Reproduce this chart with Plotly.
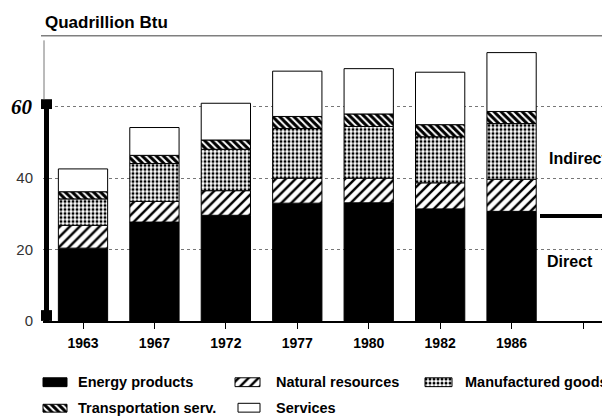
import numpy as np
import plotly.graph_objects as go

# ---- data ----
years = ["1963", "1967", "1972", "1977", "1980", "1982", "1986"]
tick_labels = years + [""]
energy_products = [20.4, 27.7, 29.6, 33.0, 33.1, 31.4, 30.7]
natural_resources = [6.4, 5.8, 6.9, 7.0, 6.9, 7.3, 9.0]
manufactured_goods = [7.4, 10.6, 11.6, 13.9, 14.5, 12.9, 15.6]
transportation_serv = [2.0, 2.3, 2.6, 3.4, 3.5, 3.4, 3.4]
services = [6.4, 7.8, 10.3, 12.7, 12.7, 14.7, 16.5]
direct_indirect_divider = 29.4
y_ticks = [0, 20, 40, 60]
y_tick_text = ["0", "20", "40", ""]

W, H = 610, 419
FONT = "Liberation Sans"

series = [
    ("Energy products", energy_products,
     dict(color="black")),
    ("Natural resources", natural_resources,
     dict(color="white", pattern=dict(shape="/", fgcolor="black", bgcolor="white", size=7, solidity=0.35, fillmode="replace"))),
    ("Manufactured goods", manufactured_goods,
     dict(color="white", pattern=dict(shape=".", fgcolor="black", bgcolor="white", size=4, solidity=0.45, fillmode="replace"))),
    ("Transportation serv.", transportation_serv,
     dict(color="white", pattern=dict(shape="\\", fgcolor="black", bgcolor="white", size=5, solidity=0.6, fillmode="replace"))),
    ("Services", services,
     dict(color="white")),
]

xs = list(range(len(years)))
fig = go.Figure()
base = np.zeros(len(years))
for name, vals, mk in series:
    v = np.array(vals)
    fig.add_trace(go.Bar(
        x=xs, y=v, base=base.copy(), name=name, width=0.69,
        marker=dict(**mk, line=dict(color="black", width=1)),
        showlegend=False, hoverinfo="skip"))
    base = base + v

# ---- legend (swatches on a hidden pixel axis) ----
legend_items = [
    # series index, x0, x1, y0, y1, text x, text y
    (0, 35, 59, 377, 386, 68, 381),
    (1, 227, 252, 377, 386, 266, 381),
    (2, 417, 444, 377, 386, 455, 381),
    (3, 35, 59, 404, 412, 68, 408),
    (4, 230, 252, 403, 412, 266, 408),
]
annotations = []
for idx, x0, x1, y0, y1, tx, ty in legend_items:
    name, _, mk = series[idx]
    fig.add_trace(go.Bar(
        x=[(x0 + x1) / 2], y=[y1 - y0], base=[y0], width=[x1 - x0],
        xaxis="x2", yaxis="y2",
        marker=dict(**mk, line=dict(color="black", width=1)),
        showlegend=False, hoverinfo="skip"))
    annotations.append(dict(
        text=name, xref="paper", yref="paper", x=tx / W, y=1 - ty / H,
        xanchor="left", yanchor="middle", showarrow=False,
        font=dict(family=FONT, size=14.5, color="black", weight="bold")))

# title and side labels
annotations += [
    dict(text="Quadrillion Btu", xref="paper", yref="paper", x=35 / W, y=1 - 15 / H,
         xanchor="left", yanchor="middle", showarrow=False,
         font=dict(family=FONT, size=17, color="black", weight="bold")),
    dict(text="Indirect", xref="paper", yref="paper", x=539 / W, y=1 - 153 / H,
         xanchor="left", yanchor="middle", showarrow=False,
         font=dict(family=FONT, size=16, color="black", weight="bold")),
    dict(text="Direct", xref="paper", yref="paper", x=537 / W, y=1 - 258 / H,
         xanchor="left", yanchor="middle", showarrow=False,
         font=dict(family=FONT, size=16, color="black", weight="bold")),
    dict(text="<b><i>60</i></b>", xref="paper", yref="y", x=27 / W, y=60,
         xanchor="right", yanchor="middle", showarrow=False,
         font=dict(family="Liberation Serif", size=21, color="black")),
]

shapes = [
    # top frame line at 80
    dict(type="line", xref="paper", yref="y", x0=33 / W, x1=1, y0=80, y1=80,
         line=dict(color="black", width=1.5)),
    # thick left bar 0..60
    dict(type="line", xref="paper", yref="y", x0=38.5 / W, x1=38.5 / W, y0=0, y1=60,
         line=dict(color="black", width=5)),
    dict(type="rect", xref="paper", yref="paper", x0=33 / W, x1=44 / W,
         y0=1 - 319 / H, y1=1 - 308 / H, fillcolor="black", line=dict(width=0)),
    dict(type="rect", xref="paper", yref="paper", x0=33 / W, x1=44 / W,
         y0=1 - 103 / H, y1=1 - 93 / H, fillcolor="black", line=dict(width=0)),
    # thin line above
    dict(type="line", xref="paper", yref="paper", x0=36 / W, x1=36 / W,
         y0=1 - 93 / H, y1=1 - 33 / H, line=dict(color="#777", width=1)),
    # direct / indirect divider
    dict(type="line", xref="paper", yref="y", x0=532 / W, x1=603 / W,
         y0=direct_indirect_divider, y1=direct_indirect_divider,
         line=dict(color="black", width=4)),
]

fig.update_layout(
    width=W, height=H, barmode="overlay",
    margin=dict(l=0, r=0, t=0, b=0, pad=0),
    paper_bgcolor="white", plot_bgcolor="white",
    showlegend=False,
    annotations=annotations, shapes=shapes,
    xaxis=dict(
        domain=[35 / W, 605 / W], range=[-0.56, 7.42],
        tickvals=list(range(len(tick_labels))), ticktext=tick_labels,
        ticks="outside", ticklen=6, tickcolor="black", tickwidth=1,
        showline=True, linecolor="black", linewidth=1.5,
        showgrid=False, zeroline=False, ticklabelstandoff=3,
        tickfont=dict(family=FONT, size=14, color="black", weight="bold"),
        anchor="y"),
    yaxis=dict(
        domain=[1 - 319 / H, 1 - 28 / H], range=[0, 80],
        tickvals=y_ticks, ticktext=y_tick_text, ticks="", showline=False, zeroline=False,
        showgrid=True, gridcolor="#777", griddash="dot", gridwidth=1,
        ticklabelstandoff=9,
        tickfont=dict(family=FONT, size=15, color="#333"),
        anchor="x"),
    xaxis2=dict(domain=[0, 1], range=[0, W], visible=False, anchor="y2"),
    yaxis2=dict(domain=[0, (H - 360) / H], range=[H, 360], visible=False, anchor="x2"),
)

fig.write_html("out.html")
